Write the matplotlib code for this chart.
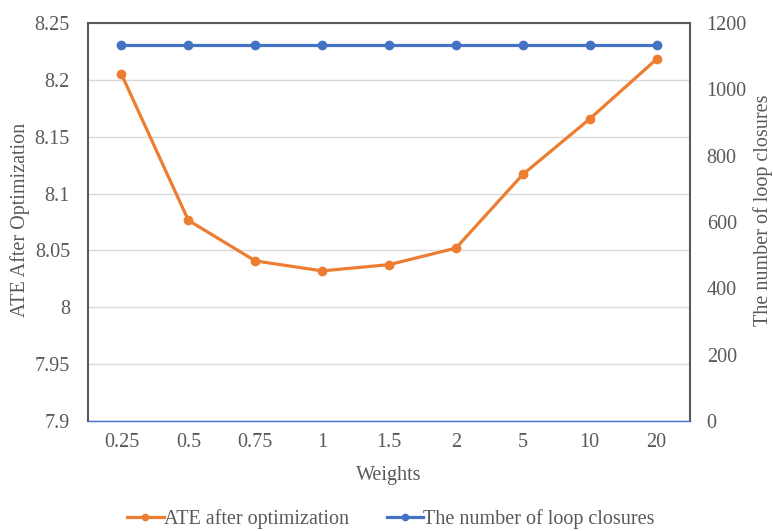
import matplotlib
matplotlib.use("Agg")
import matplotlib.pyplot as plt
from matplotlib.lines import Line2D

plt.rcParams['font.family'] = ['Liberation Serif', 'DejaVu Serif']

weights = ["0.25", "0.5", "0.75", "1", "1.5", "2", "5", "10", "20"]
ate = [8.205, 8.0765, 8.0408, 8.0320, 8.0375, 8.0520, 8.1168, 8.1656, 8.2182]
loop_closures = [1133, 1133, 1133, 1133, 1133, 1133, 1133, 1133, 1133]

left_ticks = [7.9, 7.95, 8.0, 8.05, 8.1, 8.15, 8.2, 8.25]
left_labels = ["7.9", "7.95", "8", "8.05", "8.1", "8.15", "8.2", "8.25"]
right_ticks = [0, 200, 400, 600, 800, 1000, 1200]

orange = "#ED7D31"
blue = "#4472C4"
text_gray = "#595959"
fs = 14.5

fig = plt.figure(figsize=(7.73, 5.31), dpi=100)
ax = fig.add_axes([88 / 773, 110 / 531, 602 / 773, 398 / 531])
ax2 = ax.twinx()

x = list(range(len(weights)))
ax.plot(x, ate, color=orange, lw=2.3, marker="o", ms=6, zorder=3,
        solid_capstyle="round")
ax2.plot(x, loop_closures, color=blue, lw=2.3, marker="o", ms=6, zorder=3,
         solid_capstyle="round")

ax.set_xlim(-0.5, len(weights) - 0.5)
ax.set_ylim(7.9, 8.25)
ax2.set_ylim(0, 1200)

ax.set_xticks(x)
ax.set_xticklabels(weights)
ax.set_yticks(left_ticks)
ax.set_yticklabels(left_labels)
ax2.set_yticks(right_ticks)

ax.grid(axis="y", color="#D9D9D9", lw=1.0)
ax.set_axisbelow(True)

for a in (ax, ax2):
    a.tick_params(length=0, labelsize=fs, labelcolor=text_gray)
ax.tick_params(axis="y", pad=13)
ax.tick_params(axis="x", pad=8.5)
ax2.tick_params(axis="y", pad=12)

for s in ("left", "top", "right"):
    ax.spines[s].set_color(text_gray)
    ax.spines[s].set_linewidth(1.5)
ax.spines["bottom"].set_color(blue)
ax.spines["bottom"].set_linewidth(1.0)
for s in ax2.spines.values():
    s.set_visible(False)

ax.set_xlabel("Weights", fontsize=fs, color=text_gray)
ax.xaxis.label.set_verticalalignment("center")
ax.xaxis.set_label_coords(0.5, -0.136)

ax.set_ylabel("ATE After Optimization", fontsize=fs, color=text_gray)
ax.yaxis.label.set_verticalalignment("center")
ax.yaxis.set_label_coords(-0.113, 0.505)

ax2.set_ylabel("The number of loop closures", fontsize=fs, color=text_gray,
               rotation=90)
ax2.yaxis.label.set_verticalalignment("center")
ax2.yaxis.set_label_coords(1.121, 0.53)

handles = [
    Line2D([], [], color=orange, lw=2.3, marker="o", ms=4.5),
    Line2D([], [], color=blue, lw=2.3, marker="o", ms=4.5),
]
fig.legend(handles, ["ATE after optimization", "The number of loop closures"],
           loc="center", bbox_to_anchor=(391 / 773, 12 / 531), ncol=2,
           frameon=False, fontsize=fs, labelcolor=text_gray,
           handlelength=1.8, handletextpad=0.0, columnspacing=1.9,
           borderpad=0.0)

fig.savefig("out.png", dpi=100)
